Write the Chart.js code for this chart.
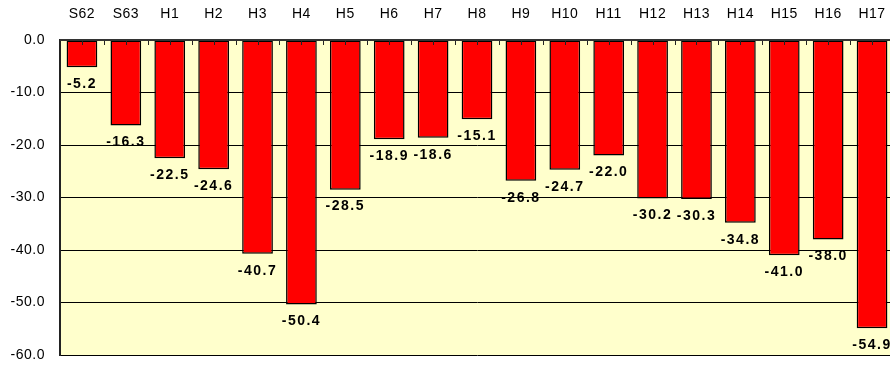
<!DOCTYPE html>
<html>
<head>
<meta charset="utf-8">
<script src="https://cdn.jsdelivr.net/npm/chart.js@4"></script>
<style>
  html, body { margin: 0; padding: 0; background: #fff; overflow: hidden; }
  #wrap { width: 890px; height: 366px; overflow: hidden; }
</style>
</head>
<body>
<div id="wrap"><canvas id="chart" width="900" height="366"></canvas></div>
<script>
// fiscal years (Showa 62 .. Heisei 17)
const years = ["S62", "S63", "H1", "H2", "H3", "H4", "H5", "H6", "H7", "H8",
               "H9", "H10", "H11", "H12", "H13", "H14", "H15", "H16", "H17"];
// change rate per year
const change = [-5.2, -16.3, -22.5, -24.6, -40.7, -50.4, -28.5, -18.9, -18.6, -15.1,
                -26.8, -24.7, -22.0, -30.2, -30.3, -34.8, -41.0, -38.0, -54.9];
// y axis range
const yMin = -60;
const yMax = 0;
const yStep = 10;

const FONT = "'Liberation Sans', Arial, sans-serif";

// pale yellow plot background, and a bit of letter spacing for all text
const plotBackground = {
    id: "plotBackground",
    beforeDraw(chart) {
        const { ctx, chartArea: a } = chart;
        ctx.save();
        ctx.fillStyle = "#ffffcc";
        ctx.fillRect(a.left, a.top, a.right - a.left, a.bottom - a.top);
        ctx.restore();
        ctx.letterSpacing = "0.5px";
    }
};

// small ticks hanging from the top axis, at every category centre and boundary
const topTicks = {
    id: "topTicks",
    afterDatasetsDraw(chart) {
        const { ctx, chartArea: a, scales } = chart;
        const x = scales.x;
        const half = (x.getPixelForValue(1) - x.getPixelForValue(0)) / 2;
        ctx.save();
        ctx.strokeStyle = "#222";
        ctx.lineWidth = 1;
        ctx.beginPath();
        for (let i = 0; i < years.length; i++) {
            const c = x.getPixelForValue(i);
            for (const px of [c, c + half]) {
                const p = Math.round(px) + 0.5;
                ctx.moveTo(p, a.top);
                ctx.lineTo(p, a.top + 5);
            }
        }
        ctx.stroke();
        // top axis line
        ctx.lineWidth = 2;
        ctx.strokeStyle = "#333";
        ctx.beginPath();
        ctx.moveTo(a.left, a.top);
        ctx.lineTo(a.right, a.top);
        ctx.stroke();
        ctx.restore();
    }
};

// value labels just below the end of each bar
const valueLabels = {
    id: "valueLabels",
    afterDatasetsDraw(chart) {
        const { ctx } = chart;
        const meta = chart.getDatasetMeta(0);
        ctx.save();
        ctx.font = "bold 14px " + FONT;
        ctx.letterSpacing = "1.5px";
        ctx.fillStyle = "#000";
        ctx.textAlign = "center";
        ctx.textBaseline = "middle";
        meta.data.forEach((bar, i) => {
            ctx.fillText(change[i].toFixed(1), bar.x, bar.y + 17);
        });
        ctx.restore();
    }
};

const ctx = document.getElementById("chart");
new Chart(ctx, {
    type: "bar",
    data: {
        labels: years,
        datasets: [{
            data: change,
            backgroundColor: "#ff0000",
            borderColor: "#000",
            borderWidth: 1.5,
            borderSkipped: false,
            inflateAmount: 0,
            barPercentage: 0.7,
            categoryPercentage: 1
        }]
    },
    options: {
        responsive: false,
        animation: false,
        layout: { padding: { top: 0, right: 6, bottom: 11, left: 0 } },
        plugins: {
            legend: { display: false },
            tooltip: { enabled: false }
        },
        scales: {
            x: {
                position: "top",
                grid: { display: false, drawTicks: false },
                border: { display: false },
                ticks: {
                    color: "#000",
                    padding: 17,
                    maxRotation: 0,
                    autoSkip: false,
                    font: { family: FONT, size: 14 }
                },
                afterFit(scale) {
                    scale.height = 40;
                    scale.paddingLeft = 0;
                    scale.paddingRight = 0;
                }
            },
            y: {
                min: yMin,
                max: yMax,
                grid: { color: "#000", lineWidth: 1, drawTicks: false },
                border: { display: true, color: "#222", width: 2 },
                ticks: {
                    stepSize: yStep,
                    color: "#000",
                    padding: 15,
                    font: { family: FONT, size: 14 },
                    callback: v => v.toFixed(1)
                },
                afterFit(scale) {
                    scale.width = 60;
                    scale.paddingTop = 0;
                    scale.paddingBottom = 0;
                }
            }
        }
    },
    plugins: [plotBackground, topTicks, valueLabels]
});
</script>
</body>
</html>
